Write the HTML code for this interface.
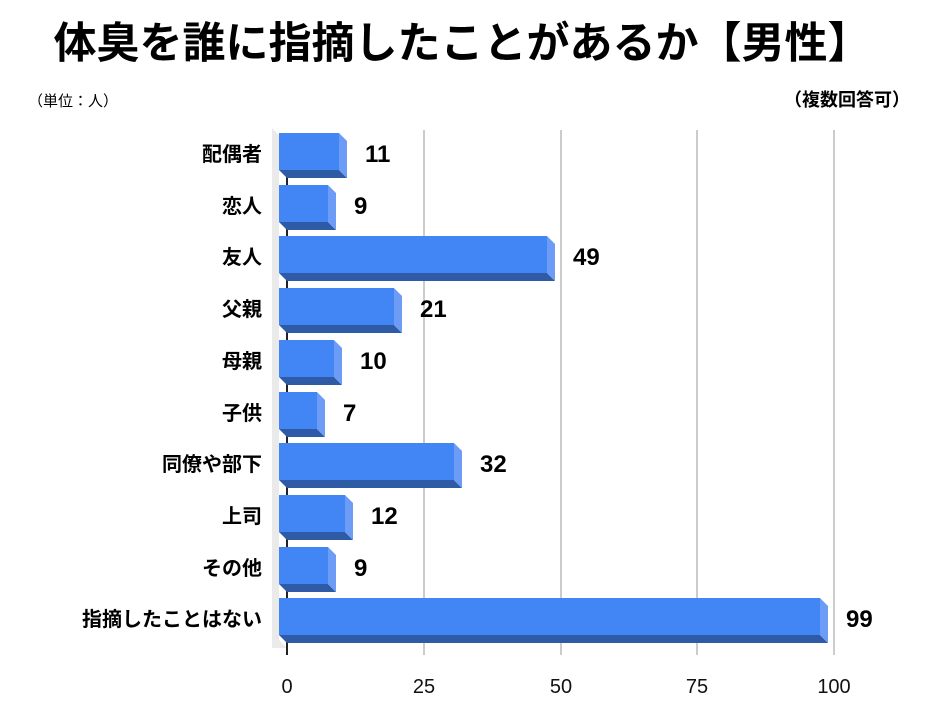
<!DOCTYPE html><html><head><meta charset="utf-8"><style>
body{margin:0;background:#fff;width:940px;height:705px;overflow:hidden;font-family:"Liberation Sans","Noto Sans CJK JP",sans-serif}
</style></head><body>
<svg width="940" height="705" xmlns="http://www.w3.org/2000/svg" font-family="Liberation Sans, Noto Sans CJK JP, sans-serif">
<text x="462" y="58" text-anchor="middle" font-size="43" font-weight="bold">体臭を誰に指摘したことがあるか【男性】</text>
<text x="28" y="106" font-size="15">（単位：人）</text>
<text x="910" y="106" text-anchor="end" font-size="18" font-weight="bold">（複数回答可）</text>
<polygon points="272,128 279,135 279,640 287,648 272,648" fill="#eaeaea"/>
<g stroke="#ccc" stroke-width="2"><line x1="424" y1="130" x2="424" y2="655"/><line x1="561" y1="130" x2="561" y2="655"/><line x1="697" y1="130" x2="697" y2="655"/><line x1="834" y1="130" x2="834" y2="655"/></g>
<line x1="287" y1="135" x2="287" y2="655" stroke="#222" stroke-width="2"/>
<g font-size="20" text-anchor="middle" fill="#111"><text x="287" y="693">0</text><text x="424" y="693">25</text><text x="561" y="693">50</text><text x="697" y="693">75</text><text x="834" y="693">100</text></g>
<g font-size="20" font-weight="bold">
<g transform="translate(0,133)"><polygon points="279,37 339,37 347,45 287,45" fill="#2f5aa6"/><polygon points="339,0 347,8 347,45 339,37" fill="#6c9cf5"/><rect x="279" y="0" width="60" height="37" fill="#4285f4"/><text x="262" y="28" text-anchor="end">配偶者</text><text x="365" y="29" font-size="24">11</text></g>
<g transform="translate(0,185)"><polygon points="279,37 328,37 336,45 287,45" fill="#2f5aa6"/><polygon points="328,0 336,8 336,45 328,37" fill="#6c9cf5"/><rect x="279" y="0" width="49" height="37" fill="#4285f4"/><text x="262" y="28" text-anchor="end">恋人</text><text x="354" y="29" font-size="24">9</text></g>
<g transform="translate(0,236)"><polygon points="279,37 547,37 555,45 287,45" fill="#2f5aa6"/><polygon points="547,0 555,8 555,45 547,37" fill="#6c9cf5"/><rect x="279" y="0" width="268" height="37" fill="#4285f4"/><text x="262" y="28" text-anchor="end">友人</text><text x="573" y="29" font-size="24">49</text></g>
<g transform="translate(0,288)"><polygon points="279,37 394,37 402,45 287,45" fill="#2f5aa6"/><polygon points="394,0 402,8 402,45 394,37" fill="#6c9cf5"/><rect x="279" y="0" width="115" height="37" fill="#4285f4"/><text x="262" y="28" text-anchor="end">父親</text><text x="420" y="29" font-size="24">21</text></g>
<g transform="translate(0,340)"><polygon points="279,37 334,37 342,45 287,45" fill="#2f5aa6"/><polygon points="334,0 342,8 342,45 334,37" fill="#6c9cf5"/><rect x="279" y="0" width="55" height="37" fill="#4285f4"/><text x="262" y="28" text-anchor="end">母親</text><text x="360" y="29" font-size="24">10</text></g>
<g transform="translate(0,392)"><polygon points="279,37 317,37 325,45 287,45" fill="#2f5aa6"/><polygon points="317,0 325,8 325,45 317,37" fill="#6c9cf5"/><rect x="279" y="0" width="38" height="37" fill="#4285f4"/><text x="262" y="28" text-anchor="end">子供</text><text x="343" y="29" font-size="24">7</text></g>
<g transform="translate(0,443)"><polygon points="279,37 454,37 462,45 287,45" fill="#2f5aa6"/><polygon points="454,0 462,8 462,45 454,37" fill="#6c9cf5"/><rect x="279" y="0" width="175" height="37" fill="#4285f4"/><text x="262" y="28" text-anchor="end">同僚や部下</text><text x="480" y="29" font-size="24">32</text></g>
<g transform="translate(0,495)"><polygon points="279,37 345,37 353,45 287,45" fill="#2f5aa6"/><polygon points="345,0 353,8 353,45 345,37" fill="#6c9cf5"/><rect x="279" y="0" width="66" height="37" fill="#4285f4"/><text x="262" y="28" text-anchor="end">上司</text><text x="371" y="29" font-size="24">12</text></g>
<g transform="translate(0,547)"><polygon points="279,37 328,37 336,45 287,45" fill="#2f5aa6"/><polygon points="328,0 336,8 336,45 328,37" fill="#6c9cf5"/><rect x="279" y="0" width="49" height="37" fill="#4285f4"/><text x="262" y="28" text-anchor="end">その他</text><text x="354" y="29" font-size="24">9</text></g>
<g transform="translate(0,598)"><polygon points="279,37 820,37 828,45 287,45" fill="#2f5aa6"/><polygon points="820,0 828,8 828,45 820,37" fill="#6c9cf5"/><rect x="279" y="0" width="541" height="37" fill="#4285f4"/><text x="262" y="28" text-anchor="end">指摘したことはない</text><text x="846" y="29" font-size="24">99</text></g>
</g>
</svg></body></html>
